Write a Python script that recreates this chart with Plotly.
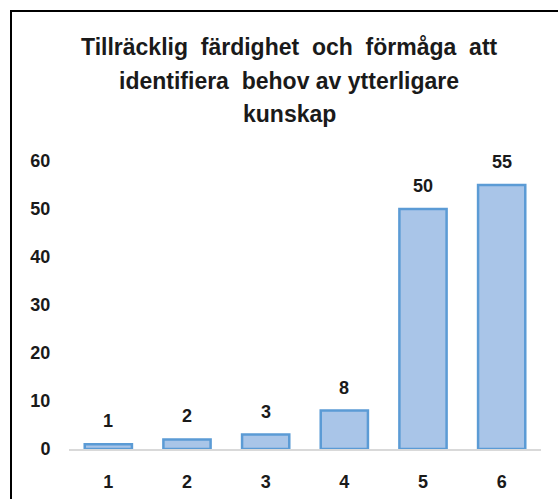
import plotly.graph_objects as go

categories = ["1", "2", "3", "4", "5", "6"]
values = [1, 2, 3, 8, 50, 55]
title_lines = ["Tillräcklig  färdighet  och  förmåga  att",
               "identifiera  behov av ytterligare",
               "kunskap"]
y_ticks = [0, 10, 20, 30, 40, 50, 60]

FONT = "Liberation Sans"
W, H = 558, 499
L, R, T, B = 69, 17, 161, 50
TXT = "#1a1a1a"

fig = go.Figure()
fig.add_trace(go.Bar(
    x=categories, y=values,
    width=0.6,
    marker=dict(color="#A9C5E8", line=dict(color="#5B9BD5", width=2.5)),
    hoverinfo="skip",
))

annotations = []
for i, v in enumerate(values):
    annotations.append(dict(x=i, y=v, xref="x", yref="y", text=str(v),
                            showarrow=False, yshift=23, yanchor="middle",
                            font=dict(family=FONT, size=18, color=TXT, weight="bold")))
plot_h = H - T - B
plot_w = W - L - R
for i, line in enumerate(title_lines):
    py = 47 + i * 33.5
    annotations.append(dict(x=(289 - L) / plot_w, y=(H - B - py) / plot_h,
                            xref="paper", yref="paper",
                            text=line.replace('  ', '&nbsp; '), showarrow=False,
                            xanchor="center", yanchor="middle",
                            font=dict(family=FONT, size=23, color=TXT, weight="bold")))

fig.update_layout(
    width=W, height=H,
    margin=dict(l=L, r=R, t=T, b=B, autoexpand=False),
    paper_bgcolor="white", plot_bgcolor="white",
    showlegend=False,
    annotations=annotations,
    xaxis=dict(type="category", showgrid=False, zeroline=False,
               showline=True, linecolor="#D9D9D9", linewidth=1.5,
               ticks="outside", ticklen=16, tickcolor="rgba(0,0,0,0)",
               tickfont=dict(family=FONT, size=18, color=TXT, weight="bold"),
               fixedrange=True),
    yaxis=dict(range=[0, 60], tickvals=y_ticks, showgrid=False, zeroline=False,
               showline=False, ticks="outside", ticklen=14, tickcolor="rgba(0,0,0,0)",
               tickfont=dict(family=FONT, size=18, color=TXT, weight="bold"),
               fixedrange=True),
    shapes=[dict(type="rect", xref="paper", yref="paper",
                 x0=(11 - L) / plot_w, x1=(W + 20 - L) / plot_w,
                 y0=-(B + 20) / plot_h, y1=(H - B - 11) / plot_h,
                 line=dict(color="black", width=2), fillcolor="rgba(0,0,0,0)",
                 layer="below")],
)

fig.write_html("out.html", config={"displayModeBar": False},
               post_script="document.body.style.margin='0';document.body.style.overflow='hidden';")
